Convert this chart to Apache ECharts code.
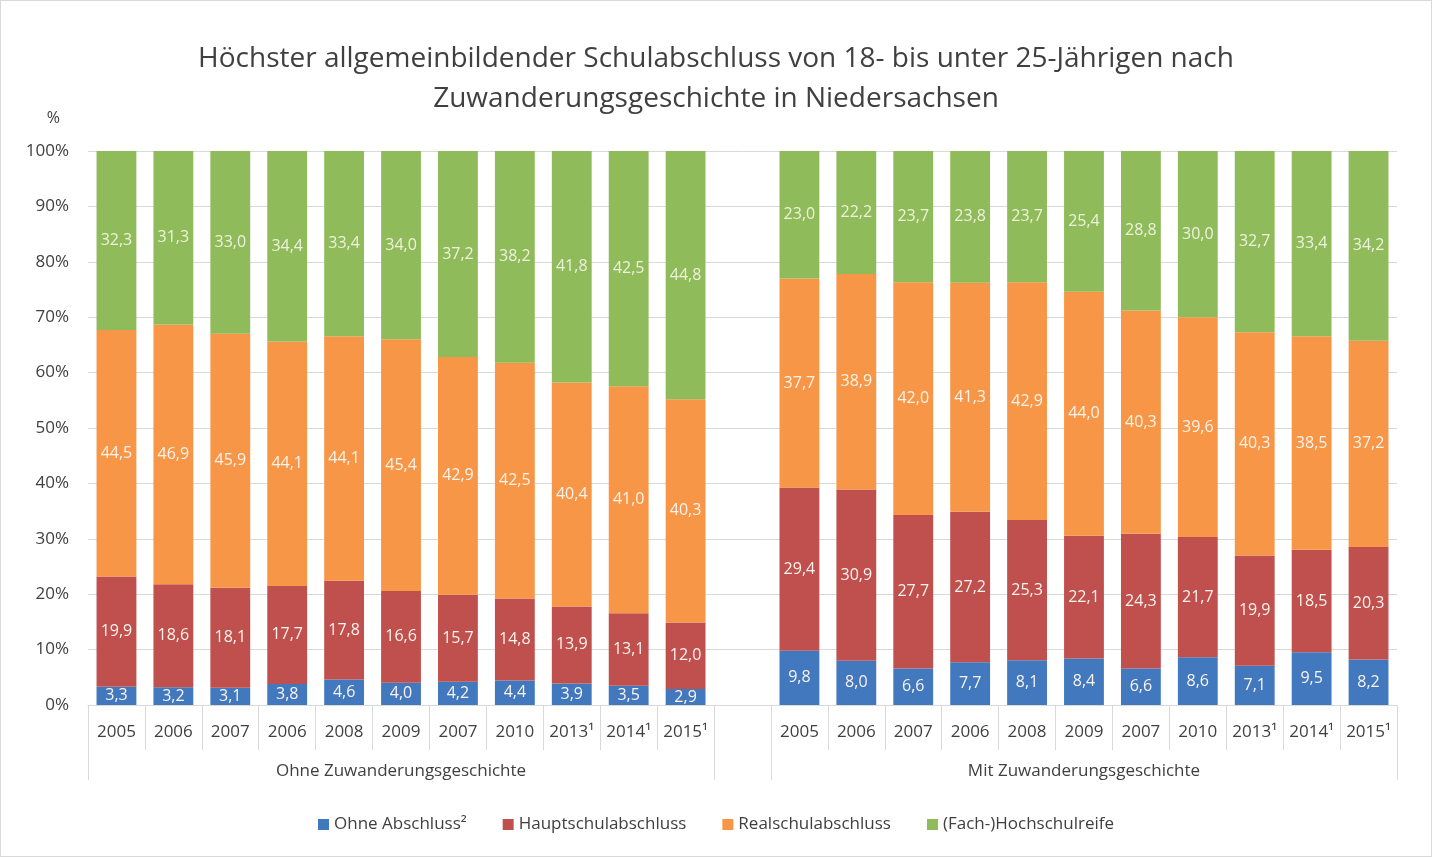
<!DOCTYPE html>
<html>
<head>
    <meta charset="utf-8">
    <title>Schulabschluss Niedersachsen</title>
    <script src="https://cdn.jsdelivr.net/npm/echarts@6/dist/echarts.min.js"></script>
    <style>
        html, body { margin: 0; padding: 0; background: #fff; }
        #chart { width: 1432px; height: 857px; box-sizing: border-box; border: 1px solid #d9d9d9; }
    </style>
</head>
<body>
<div id="chart"></div>
<script type="text/javascript">
    // Jahre (gleich fuer beide Gruppen)
    var years = ['2005', '2006', '2007', '2006', '2008', '2009', '2007', '2010', '2013¹', '2014¹', '2015¹'];
    var groups = ['Ohne Zuwanderungsgeschichte', 'Mit Zuwanderungsgeschichte'];
    var seriesNames = ['Ohne Abschluss²', 'Hauptschulabschluss', 'Realschulabschluss', '(Fach-)Hochschulreife'];

    // ohne Zuwanderungsgeschichte
    var ohneAbschlussOhne = [3.3, 3.2, 3.1, 3.8, 4.6, 4.0, 4.2, 4.4, 3.9, 3.5, 2.9];
    var hauptschuleOhne = [19.9, 18.6, 18.1, 17.7, 17.8, 16.6, 15.7, 14.8, 13.9, 13.1, 12.0];
    var realschuleOhne = [44.5, 46.9, 45.9, 44.1, 44.1, 45.4, 42.9, 42.5, 40.4, 41.0, 40.3];
    var hochschulreifeOhne = [32.3, 31.3, 33.0, 34.4, 33.4, 34.0, 37.2, 38.2, 41.8, 42.5, 44.8];

    // mit Zuwanderungsgeschichte
    var ohneAbschlussMit = [9.8, 8.0, 6.6, 7.7, 8.1, 8.4, 6.6, 8.6, 7.1, 9.5, 8.2];
    var hauptschuleMit = [29.4, 30.9, 27.7, 27.2, 25.3, 22.1, 24.3, 21.7, 19.9, 18.5, 20.3];
    var realschuleMit = [37.7, 38.9, 42.0, 41.3, 42.9, 44.0, 40.3, 39.6, 40.3, 38.5, 37.2];
    var hochschulreifeMit = [23.0, 22.2, 23.7, 23.8, 23.7, 25.4, 28.8, 30.0, 32.7, 33.4, 34.2];

    var colors = ['#4178be', '#c0504d', '#f79646', '#8fbb5a'];

    // Kategorien: Gruppe 1, Luecke, Gruppe 2
    var categories = years.concat([''], years);
    var groupCats = categories.map(function (c, i) {
        if (i === 5) return groups[0];
        if (i === 17) return groups[1];
        return '';
    });

    var raw = [
        ohneAbschlussOhne.concat([null], ohneAbschlussMit),
        hauptschuleOhne.concat([null], hauptschuleMit),
        realschuleOhne.concat([null], realschuleMit),
        hochschulreifeOhne.concat([null], hochschulreifeMit)
    ];
    // 100%-Stapel: auf Summe normieren, Beschriftung zeigt Originalwert
    var sums = categories.map(function (c, i) {
        return raw.reduce(function (s, arr) { return s + (arr[i] || 0); }, 0);
    });

    var series = raw.map(function (arr, k) {
        return {
            name: seriesNames[k],
            type: 'bar',
            stack: 'total',
            barWidth: '70%',
            itemStyle: { color: colors[k] },
            label: {
                show: true,
                position: 'inside',
                color: k === 3 ? '#eef2dc' : '#fbf3ee',
                fontSize: 16,
                fontFamily: 'Open Sans',
                formatter: function (p) {
                    return p.data && p.data.raw != null ? p.data.raw.toFixed(1).replace('.', ',') : '';
                }
            },
            data: arr.map(function (v, i) {
                return v == null ? { value: null, raw: null } : { value: v / sums[i] * 100, raw: v };
            })
        };
    });

    var myChart = echarts.init(document.getElementById('chart'));
    myChart.setOption({
        animation: false,
        textStyle: { fontFamily: 'Open Sans' },
        title: {
            text: 'Höchster allgemeinbildender Schulabschluss von 18- bis unter 25-Jährigen nach\nZuwanderungsgeschichte in Niedersachsen',
            left: 'center',
            top: 33,
            textStyle: { fontSize: 28, fontWeight: 'normal', color: '#404040', lineHeight: 40, fontFamily: 'Open Sans' }
        },
        legend: {
            bottom: 18,
            left: 'center',
            itemWidth: 11,
            itemHeight: 11,
            itemGap: 36,
            icon: 'rect',
            textStyle: { fontSize: 17, color: '#404040' },
            data: seriesNames
        },
        grid: { left: 87, right: 34, top: 150, bottom: 151 },
        xAxis: [
            {
                type: 'category',
                data: categories,
                axisLine: { show: true, lineStyle: { color: '#d9d9d9' } },
                axisTick: { show: true, length: 45, lineStyle: { color: '#d9d9d9' } },
                axisLabel: { interval: 0, margin: 19, fontSize: 17, color: '#404040' }
            },
            {
                type: 'category',
                position: 'bottom',
                data: groupCats,
                axisLine: { show: false },
                axisTick: {
                    show: true,
                    length: 75,
                    lineStyle: { color: '#d9d9d9' },
                    interval: function (i) { return i === 0 || i === 11 || i === 12; }
                },
                axisLabel: { interval: 0, margin: 58, fontSize: 17, color: '#404040' }
            }
        ],
        yAxis: {
            type: 'value',
            min: 0,
            max: 100,
            interval: 10,
            name: '%',
            nameLocation: 'end',
            nameGap: 25,
            nameTextStyle: { fontSize: 16, color: '#404040', align: 'right', padding: [0, 28, 0, 0] },
            axisLine: { show: false },
            axisTick: { show: false },
            splitLine: { lineStyle: { color: '#d9d9d9' } },
            axisLabel: { margin: 19, fontSize: 17, color: '#404040', formatter: '{value}%' }
        },
        series: series
    });
</script>
</body>
</html>
